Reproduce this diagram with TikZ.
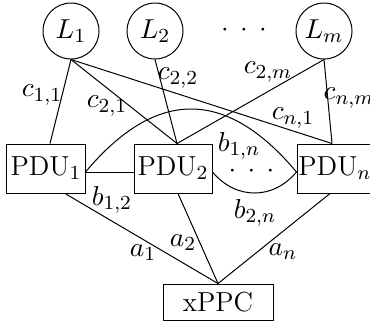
\documentclass[tikz,border=0pt]{standalone}
\usetikzlibrary{calc}
\begin{document}
\begin{tikzpicture}[x=0.4pt,y=-0.4pt,
  every node/.style={font=\fontsize{11}{13}\selectfont},
  lnode/.style={circle,draw,minimum size=22.4pt,inner sep=0pt},
  pbox/.style={rectangle,draw,minimum height=19.6pt,inner sep=0pt},
  lab/.style={inner sep=0pt},
  dotrow/.style={inner sep=0pt,anchor=base}]
\useasboundingbox (0,0) rectangle (370,323);
% load nodes
\node[lnode] (L1) at (71,31) {$L_1$};
\node[lnode] (L2) at (155,31) {$L_2$};
\node[lnode] (Lm) at (324,31) {$L_m$};
\node[dotrow] (ldots) at (244,36) {${\cdot}\hspace{4.55pt}{\cdot}\hspace{4.55pt}{\cdot}$};
% PDU nodes
\node[pbox,minimum width=31.2pt] (P1) at (46,168.5) {PDU$_1$};
\node[pbox,minimum width=31.2pt] (P2) at (173,168.5) {PDU$_2$};
\node[pbox,minimum width=30.4pt] (Pn) at (335,168.5) {PDU$_n$};
\node[dotrow] (pdots) at (251.5,177) {${\cdot}\hspace{4.55pt}{\cdot}\hspace{4.55pt}{\cdot}$};
% xPPC
\node[pbox,minimum width=44pt,minimum height=14.4pt] (X) at (218,302) {xPPC};
% attachment points
\coordinate (p1n) at ($(P1.north)+(4,0)$);
\coordinate (p2n) at ($(P2.north)+(4,0)$);
\coordinate (pnn) at ($(Pn.north)+(-3,0)$);
\coordinate (p1e) at ($(P1.east)+(0,3.5)$);
\coordinate (p2w) at ($(P2.west)+(0,3.5)$);
\coordinate (p2e) at ($(P2.east)+(0,3.5)$);
\coordinate (pnw) at ($(Pn.west)+(0,3.5)$);
\coordinate (p1s) at ($(P1.south)+(19,0)$);
\coordinate (p2s) at ($(P2.south)+(5,0)$);
\coordinate (pns) at ($(Pn.south)+(-5,0)$);
% load links
\draw (L1.south) -- (p1n);
\draw (L1.south) -- (p2n);
\draw (L1.south) -- (pnn);
\draw (L2.south) -- (p2n);
\draw (Lm.south) -- (p2n);
\draw (Lm.south) -- (pnn);
% PDU links
\draw (p1e) -- (p2w);
\draw (p1e) .. controls ($(p1e)+(70.5,-84)$) and ($(pnw)+(-70.5,-84)$) .. (pnw);
\draw (p2e) .. controls ($(p2e)+(23.5,28)$) and ($(pnw)+(-23.5,28)$) .. (pnw);
% xPPC links
\draw (p1s) -- (X.north);
\draw (p2s) -- (X.north);
\draw (pns) -- (X.north);
% labels
\node[lab] (c11) at (42,95) {$c_{1,1}$};
\node[lab] (c21) at (107,106) {$c_{2,1}$};
\node[lab] (cn1) at (293,118) {$c_{n,1}$};
\node[lab] (c22) at (178,78) {$c_{2,2}$};
\node[lab] (c2m) at (268,72) {$c_{2,m}$};
\node[lab] (cnm) at (349,98) {$c_{n,m}$};
\node[lab] (b12) at (112,200) {$b_{1,2}$};
\node[lab] (b1n) at (239,146) {$b_{1,n}$};
\node[lab] (b2n) at (255,213) {$b_{2,n}$};
\node[lab] (a1) at (143,253) {$a_1$};
\node[lab] (a2) at (183,243) {$a_2$};
\node[lab] (an) at (283,252) {$a_n$};
\end{tikzpicture}
\end{document}
